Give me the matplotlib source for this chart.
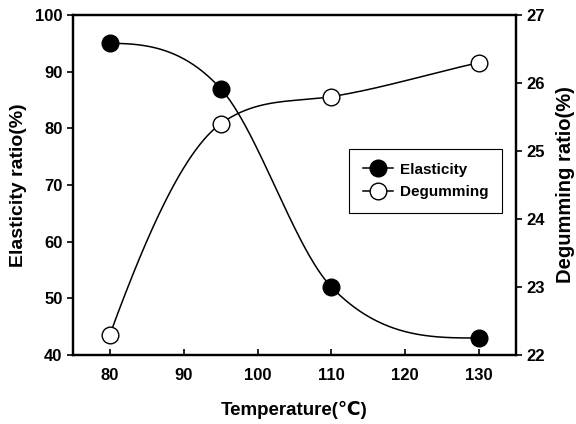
import numpy as np
import matplotlib
matplotlib.use("Agg")
import matplotlib.pyplot as plt
from matplotlib.lines import Line2D

temperature = [80, 95, 110, 130]
elasticity = [95, 87, 52, 43]
degumming = [22.3, 25.4, 25.8, 26.3]
x_ticks = [80, 90, 100, 110, 120, 130]
left_ticks = [40, 50, 60, 70, 80, 90, 100]
right_ticks = [22, 23, 24, 25, 26, 27]

plt.rcParams['font.family'] = ['Liberation Sans', 'DejaVu Sans']
plt.rcParams['font.weight'] = 'bold'


def monotone_curve(x, y, n=400):
    """Fritsch-Carlson monotone cubic Hermite curve through the data."""
    x = np.asarray(x, float)
    y = np.asarray(y, float)
    h = np.diff(x)
    d = np.diff(y) / h
    k = len(x)
    m = np.zeros(k)
    for i in range(1, k - 1):
        m[i] = 0.0 if d[i - 1] * d[i] <= 0 else (d[i - 1] + d[i]) / 2
    m0 = ((2 * h[0] + h[1]) * d[0] - h[0] * d[1]) / (h[0] + h[1])
    m[0] = 0.0 if m0 * d[0] <= 0 else m0
    mn = ((2 * h[-1] + h[-2]) * d[-1] - h[-1] * d[-2]) / (h[-1] + h[-2])
    m[-1] = 0.0 if mn * d[-1] <= 0 else mn
    for i in range(k - 1):
        if d[i] == 0:
            m[i] = m[i + 1] = 0
            continue
        a = m[i] / d[i]
        b = m[i + 1] / d[i]
        s = a * a + b * b
        if s > 9:
            t = 3 / np.sqrt(s)
            m[i] = t * a * d[i]
            m[i + 1] = t * b * d[i]
    xs = np.linspace(x[0], x[-1], n)
    idx = np.clip(np.searchsorted(x, xs) - 1, 0, k - 2)
    t = (xs - x[idx]) / h[idx]
    h00 = 2 * t ** 3 - 3 * t ** 2 + 1
    h10 = t ** 3 - 2 * t ** 2 + t
    h01 = -2 * t ** 3 + 3 * t ** 2
    h11 = t ** 3 - t ** 2
    ys = h00 * y[idx] + h10 * h[idx] * m[idx] + h01 * y[idx + 1] + h11 * h[idx] * m[idx + 1]
    return xs, ys


fig = plt.figure(figsize=(5.76, 4.24), dpi=100)
ax = fig.add_axes([73 / 576, 1 - 355 / 424, (516 - 73) / 576, (355 - 15) / 424])
ax2 = ax.twinx()

MS = 12
xs, ys = monotone_curve(temperature, elasticity)
ax.plot(xs, ys, color='black', lw=1.1)
ax.plot(temperature, elasticity, 'o', ms=MS, mfc='black', mec='black')

xs2, ys2 = monotone_curve(temperature, degumming)
ax2.plot(xs2, ys2, color='black', lw=1.1)
ax2.plot(temperature, degumming, 'o', ms=MS, mfc='white', mec='black', mew=1.0)

ax.set_xlim(75, 135)
ax.set_ylim(40, 100)
ax2.set_ylim(22, 27)
ax.set_xticks(x_ticks)
ax.set_yticks(left_ticks)
ax2.set_yticks(right_ticks)

for a in (ax, ax2):
    for s in a.spines.values():
        s.set_linewidth(1.6)
ax.tick_params(axis='x', direction='in', length=4, width=1.2, labelsize=12, pad=9)
ax.tick_params(axis='y', direction='out', length=4, width=1.2, labelsize=12)
ax2.tick_params(axis='y', direction='out', length=4, width=1.2, labelsize=12)

ax.set_xlabel('Temperature(℃)', fontsize=13.5, fontweight='bold', labelpad=13)
ax.set_ylabel('Elasticity ratio(%)', fontsize=14, fontweight='bold', labelpad=6)
ax2.set_ylabel('Degumming ratio(%)', fontsize=14.5, fontweight='bold', labelpad=8)

handles = [
    Line2D([], [], color='black', lw=1.1, marker='o', ms=MS, mfc='black', mec='black'),
    Line2D([], [], color='black', lw=1.1, marker='o', ms=MS, mfc='white', mec='black'),
]
leg = ax2.legend(handles, ['Elasticity', 'Degumming'], loc='upper left',
                 bbox_to_anchor=((349 - 73) / 443, 1 - (149 - 15) / 340),
                 fancybox=False, edgecolor='black', framealpha=1,
                 fontsize=11, handlelength=2.0, borderpad=0.9, labelspacing=0.55,
                 handletextpad=0.45, borderaxespad=0)
leg._legend_box.align = 'left'
leg.get_frame().set_linewidth(0.8)

fig.savefig('out.png', dpi=100)
